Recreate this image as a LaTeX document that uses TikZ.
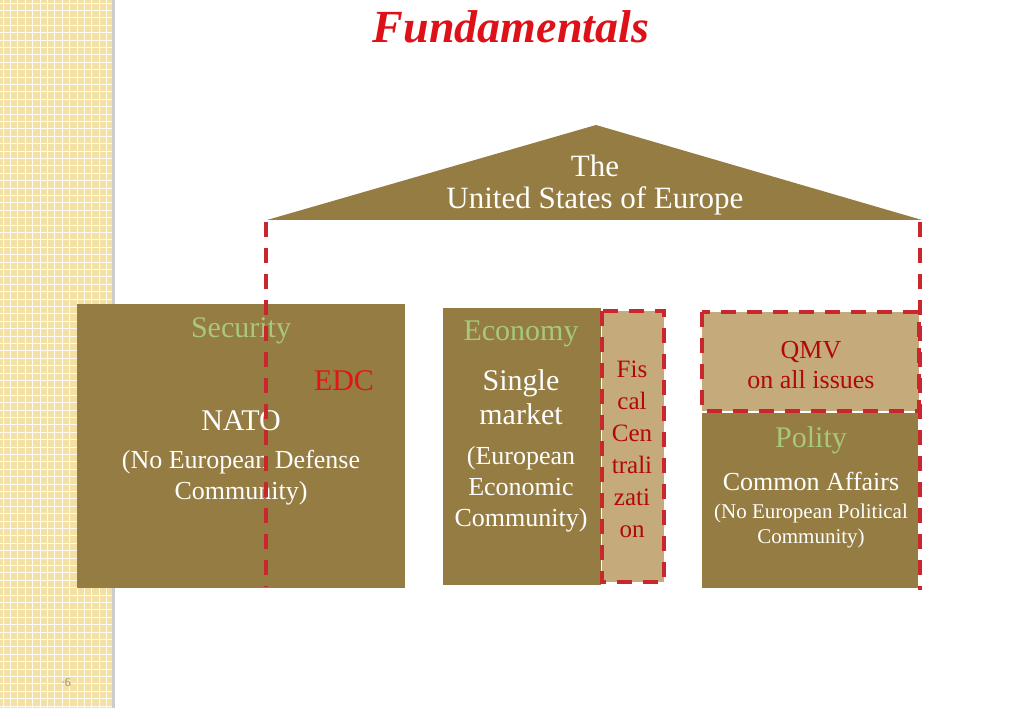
\documentclass[tikz,border=0pt]{standalone}
\usepackage{fontspec}
\setmainfont{Liberation Serif}
\definecolor{boxbrown}{RGB}{149,124,66}
\definecolor{boxtan}{RGB}{197,170,124}
\definecolor{dashred}{RGB}{200,40,45}
\definecolor{labelgreen}{RGB}{168,200,128}
\definecolor{edcred}{RGB}{228,20,20}
\definecolor{darkred}{RGB}{178,8,8}
\definecolor{titlered}{RGB}{222,16,24}
\definecolor{stripcream}{RGB}{242,224,164}
\definecolor{stripline}{RGB}{255,250,242}
\newcommand\fsz[2]{\fontsize{#1}{#2}\selectfont}
\tikzset{
  brownbox/.style={fill=boxbrown, draw=none, inner sep=0, outer sep=0},
  tanbox/.style={fill=boxtan, draw=none, inner sep=0, outer sep=0},
  reddash/.style={draw=dashred, line width=3.2pt, dash pattern=on 15pt off 11pt},
  txt/.style={inner sep=0, align=center},
  head/.style={txt, text=labelgreen, font=\fsz{30}{34}},
  big/.style={txt, text=white, font=\fsz{30}{34}},
  small/.style={txt, text=white, font=\fsz{26}{31}},
  redtxt/.style={txt, text=darkred, font=\fsz{25}{32}},
}
\begin{document}
\begin{tikzpicture}[x=1pt, y=-1pt]
\useasboundingbox (0,0) rectangle (1023,708);
% left decorative strip
\fill[stripcream] (0,0) rectangle (112,708);
\foreach \i in {0,...,15} \draw[stripline, line width=0.9pt] (\i*7.4+3,0) -- (\i*7.4+3,708);
\foreach \j in {0,...,95} \draw[stripline, line width=0.9pt] (0,\j*7.4+3) -- (112,\j*7.4+3);
\fill[black!20] (112,0) rectangle (115,708);
\node[txt, text=black!45, font=\fsz{12}{14}] (pagenum) at (66,683) {·6};

% title
\node[txt, text=titlered, font=\fsz{46}{50}\bfseries\itshape] (title) at (511,27) {Fundamentals};

% roof
\coordinate (roofL) at (267,220);
\coordinate (roofT) at (596,125);
\coordinate (roofR) at (922,220);
\fill[boxbrown] (roofL) -- (roofT) -- (roofR) -- cycle;
\node[txt, text=white, font=\fsz{31}{32}] (rooftxt) at (595,185) {The\\United States of Europe};

% pillars
\node[brownbox, minimum width=328pt, minimum height=284pt] (secbox) at (241,446) {};
\node[brownbox, minimum width=158pt, minimum height=277pt] (ecobox) at (522,446.5) {};
\node[tanbox, minimum width=62pt, minimum height=271pt] (fisbox) at (633,446.5) {};
\node[tanbox, minimum width=217pt, minimum height=99pt] (qmvbox) at (810.5,361.5) {};
\node[brownbox, minimum width=216pt, minimum height=175pt] (polbox) at (810,500.5) {};

% security texts
\node[head] (sechead) at (241,331) {Security};
\node[txt, text=edcred, font=\fsz{30}{34}] (edc) at (344,381) {EDC};
\node[big] (nato) at (241,421) {NATO};
\node[small] (natosub) at (241,478) {(No European Defense\\Community)};

% economy texts
\node[head] (ecohead) at (521,334) {Economy};
\node[big] (single) at (521,397) {Single\\market};
\node[small] (ecosub) at (521,489) {(European\\Economic\\Community)};
\node[redtxt] (fistxt) at (632,449) {Fis\\cal\\Cen\\trali\\zati\\on};

% polity texts
\node[txt, text=darkred, font=\fsz{26}{30}] (qmvtxt) at (811,365) {QMV\\on all issues};
\node[head] (polhead) at (811,440) {Polity};
\node[txt, text=white, font=\fsz{26}{30}] (common) at (811,481) {Common Affairs};
\node[txt, text=white, font=\fsz{21}{25}] (polsub) at (811,526) {(No European Political\\Community)};

% dashed outlines
\draw[reddash] (fisbox.north west) rectangle (fisbox.south east);
\draw[reddash] (qmvbox.north west) rectangle (qmvbox.south east);
\coordinate (dlTop) at (266,222);
\coordinate (dlBot) at (266,587);
\coordinate (drTop) at (920,222);
\coordinate (drBot) at (920,590);
\draw[reddash] (dlTop) -- (dlBot);
\draw[reddash] (drTop) -- (drBot);
\end{tikzpicture}
\end{document}
